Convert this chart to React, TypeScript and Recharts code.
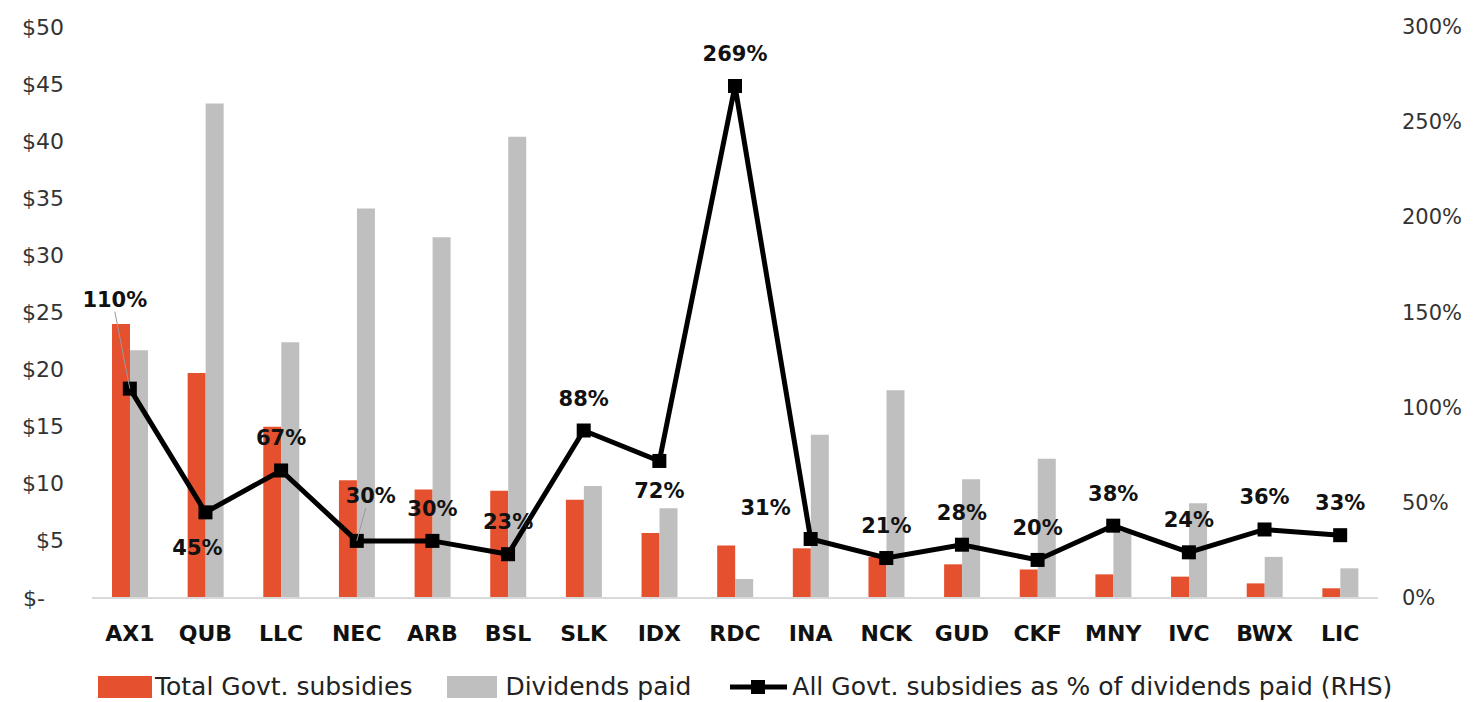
import React from "react";
import {
  ComposedChart,
  Bar,
  Line,
  XAxis,
  YAxis,
  Legend,
  LabelList,
} from "recharts";

const tickers = [
  "AX1", "QUB", "LLC", "NEC", "ARB", "BSL", "SLK", "IDX", "RDC",
  "INA", "NCK", "GUD", "CKF", "MNY", "IVC", "BWX", "LIC",
];
const subsidies = [
  24.0, 19.7, 15.0, 10.3, 9.5, 9.4, 8.6, 5.7, 4.6, 4.35, 3.6, 2.95, 2.5, 2.07, 1.87, 1.28, 0.85,
];
const dividends = [
  21.7, 43.3, 22.4, 34.1, 31.6, 40.4, 9.8, 7.85, 1.66, 14.3, 18.2, 10.4, 12.2, 5.8, 8.3, 3.6, 2.6,
];
const pctOfDividends = [110, 45, 67, 30, 30, 23, 88, 72, 269, 31, 21, 28, 20, 38, 24, 36, 33];

const leftTicks = [0, 5, 10, 15, 20, 25, 30, 35, 40, 45, 50];
const rightTicks = [0, 50, 100, 150, 200, 250, 300];

const data = tickers.map((name, i) => ({
  name,
  subsidies: subsidies[i],
  dividends: dividends[i],
  pct: pctOfDividends[i],
}));

// where each % label sits relative to its marker: [dx, dy, leader line]
const labelNudge: Record<string, [number, number, boolean]> = {
  AX1: [-15, -89, true],
  QUB: [-8, 36, false],
  NEC: [14, -45, true],
  IDX: [0, 30, false],
  INA: [-45, -31, false],
};

const ORANGE = "#E5502F";
const GREY = "#BFBFBF";
const FONT = "'DejaVu Sans', sans-serif";

function LeftTick(props: any) {
  const { x, y, payload } = props;
  const v = payload.value;
  return (
    <text
      x={v === 0 ? x - 19 : x}
      y={y}
      textAnchor="end"
      dominantBaseline="central"
      fontSize={22}
      fontFamily={FONT}
      fill="#333"
    >
      {v === 0 ? "$-" : `$${v}`}
    </text>
  );
}

function RightTick(props: any) {
  const { x, y, payload } = props;
  return (
    <text
      x={x}
      y={y}
      textAnchor="start"
      dominantBaseline="central"
      fontSize={21}
      fontFamily={FONT}
      fill="#333"
    >
      {`${payload.value}%`}
    </text>
  );
}

function PctLabel(props: any) {
  const { x, y, value, index } = props;
  const nudge = labelNudge[tickers[index]] || [0, -32, false];
  const lx = x + nudge[0];
  const ly = y + nudge[1];
  return (
    <g>
      {nudge[2] && (
        <line
          x1={lx + (nudge[0] < 0 ? 0 : -5)}
          y1={ly + 12}
          x2={x}
          y2={y}
          stroke="#9a9a9a"
          strokeWidth={1}
        />
      )}
      <text
        x={lx}
        y={ly}
        textAnchor="middle"
        dominantBaseline="central"
        fontSize={21}
        fontWeight="bold"
        fontFamily={FONT}
        fill="#111"
      >
        {`${value}%`}
      </text>
    </g>
  );
}

function SquareDot(props: any) {
  const { cx, cy } = props;
  if (cx == null || cy == null) return null;
  return <rect x={cx - 7} y={cy - 7} width={14} height={14} fill="#000" />;
}

function LegendBox() {
  const txt: React.CSSProperties = {
    fontFamily: FONT,
    fontSize: 25,
    color: "#222",
    whiteSpace: "nowrap",
  };
  return (
    <div style={{ display: "flex", alignItems: "center", paddingLeft: 98 }}>
      <div style={{ width: 54, height: 22, background: ORANGE, marginRight: 3 }} />
      <span style={txt}>Total Govt. subsidies</span>
      <div style={{ width: 50, height: 22, background: GREY, marginLeft: 35, marginRight: 8 }} />
      <span style={txt}>Dividends paid</span>
      <svg width={57} height={22} style={{ marginLeft: 39, marginRight: 5 }}>
        <line x1={0} y1={11} x2={57} y2={11} stroke="#000" strokeWidth={5} />
        <rect x={21} y={4} width={14} height={14} fill="#000" />
      </svg>
      <span style={txt}>All Govt. subsidies as % of dividends paid (RHS)</span>
    </div>
  );
}

export default function App() {
  return (
    <div style={{ position: "absolute", left: 0, top: 0, background: "#fff" }}>
      <ComposedChart
        width={1475}
        height={702}
        data={data}
        margin={{ top: 27, right: 0, bottom: 0, left: 0 }}
        barGap={0}
        barSize={18}
      >
        <XAxis
          dataKey="name"
          height={74}
          tickLine={false}
          axisLine={{ stroke: "#D9D9D9", strokeWidth: 2 }}
          tickMargin={21}
          tick={{ fontSize: 22, fontWeight: "bold", fontFamily: FONT, fill: "#111" }}
          interval={0}
        />
        <YAxis
          yAxisId="left"
          width={92}
          domain={[0, 50]}
          ticks={leftTicks}
          axisLine={false}
          tickLine={false}
          tickMargin={22}
          tick={<LeftTick />}
          interval={0}
        />
        <YAxis
          yAxisId="right"
          orientation="right"
          width={97}
          domain={[0, 300]}
          ticks={rightTicks}
          axisLine={false}
          tickLine={false}
          tickMargin={18}
          tick={<RightTick />}
          interval={0}
        />
        <Legend
          verticalAlign="bottom"
          height={30}
          content={() => <LegendBox />}
          wrapperStyle={{ left: 0, width: 1475 }}
        />
        <Bar
          yAxisId="left"
          dataKey="subsidies"
          name="Total Govt. subsidies"
          fill={ORANGE}
          isAnimationActive={false}
        />
        <Bar
          yAxisId="left"
          dataKey="dividends"
          name="Dividends paid"
          fill={GREY}
          isAnimationActive={false}
        />
        <Line
          yAxisId="right"
          dataKey="pct"
          name="All Govt. subsidies as % of dividends paid (RHS)"
          stroke="#000"
          strokeWidth={5}
          dot={<SquareDot />}
          activeDot={false}
          isAnimationActive={false}
        >
          <LabelList dataKey="pct" content={<PctLabel />} />
        </Line>
      </ComposedChart>
    </div>
  );
}
